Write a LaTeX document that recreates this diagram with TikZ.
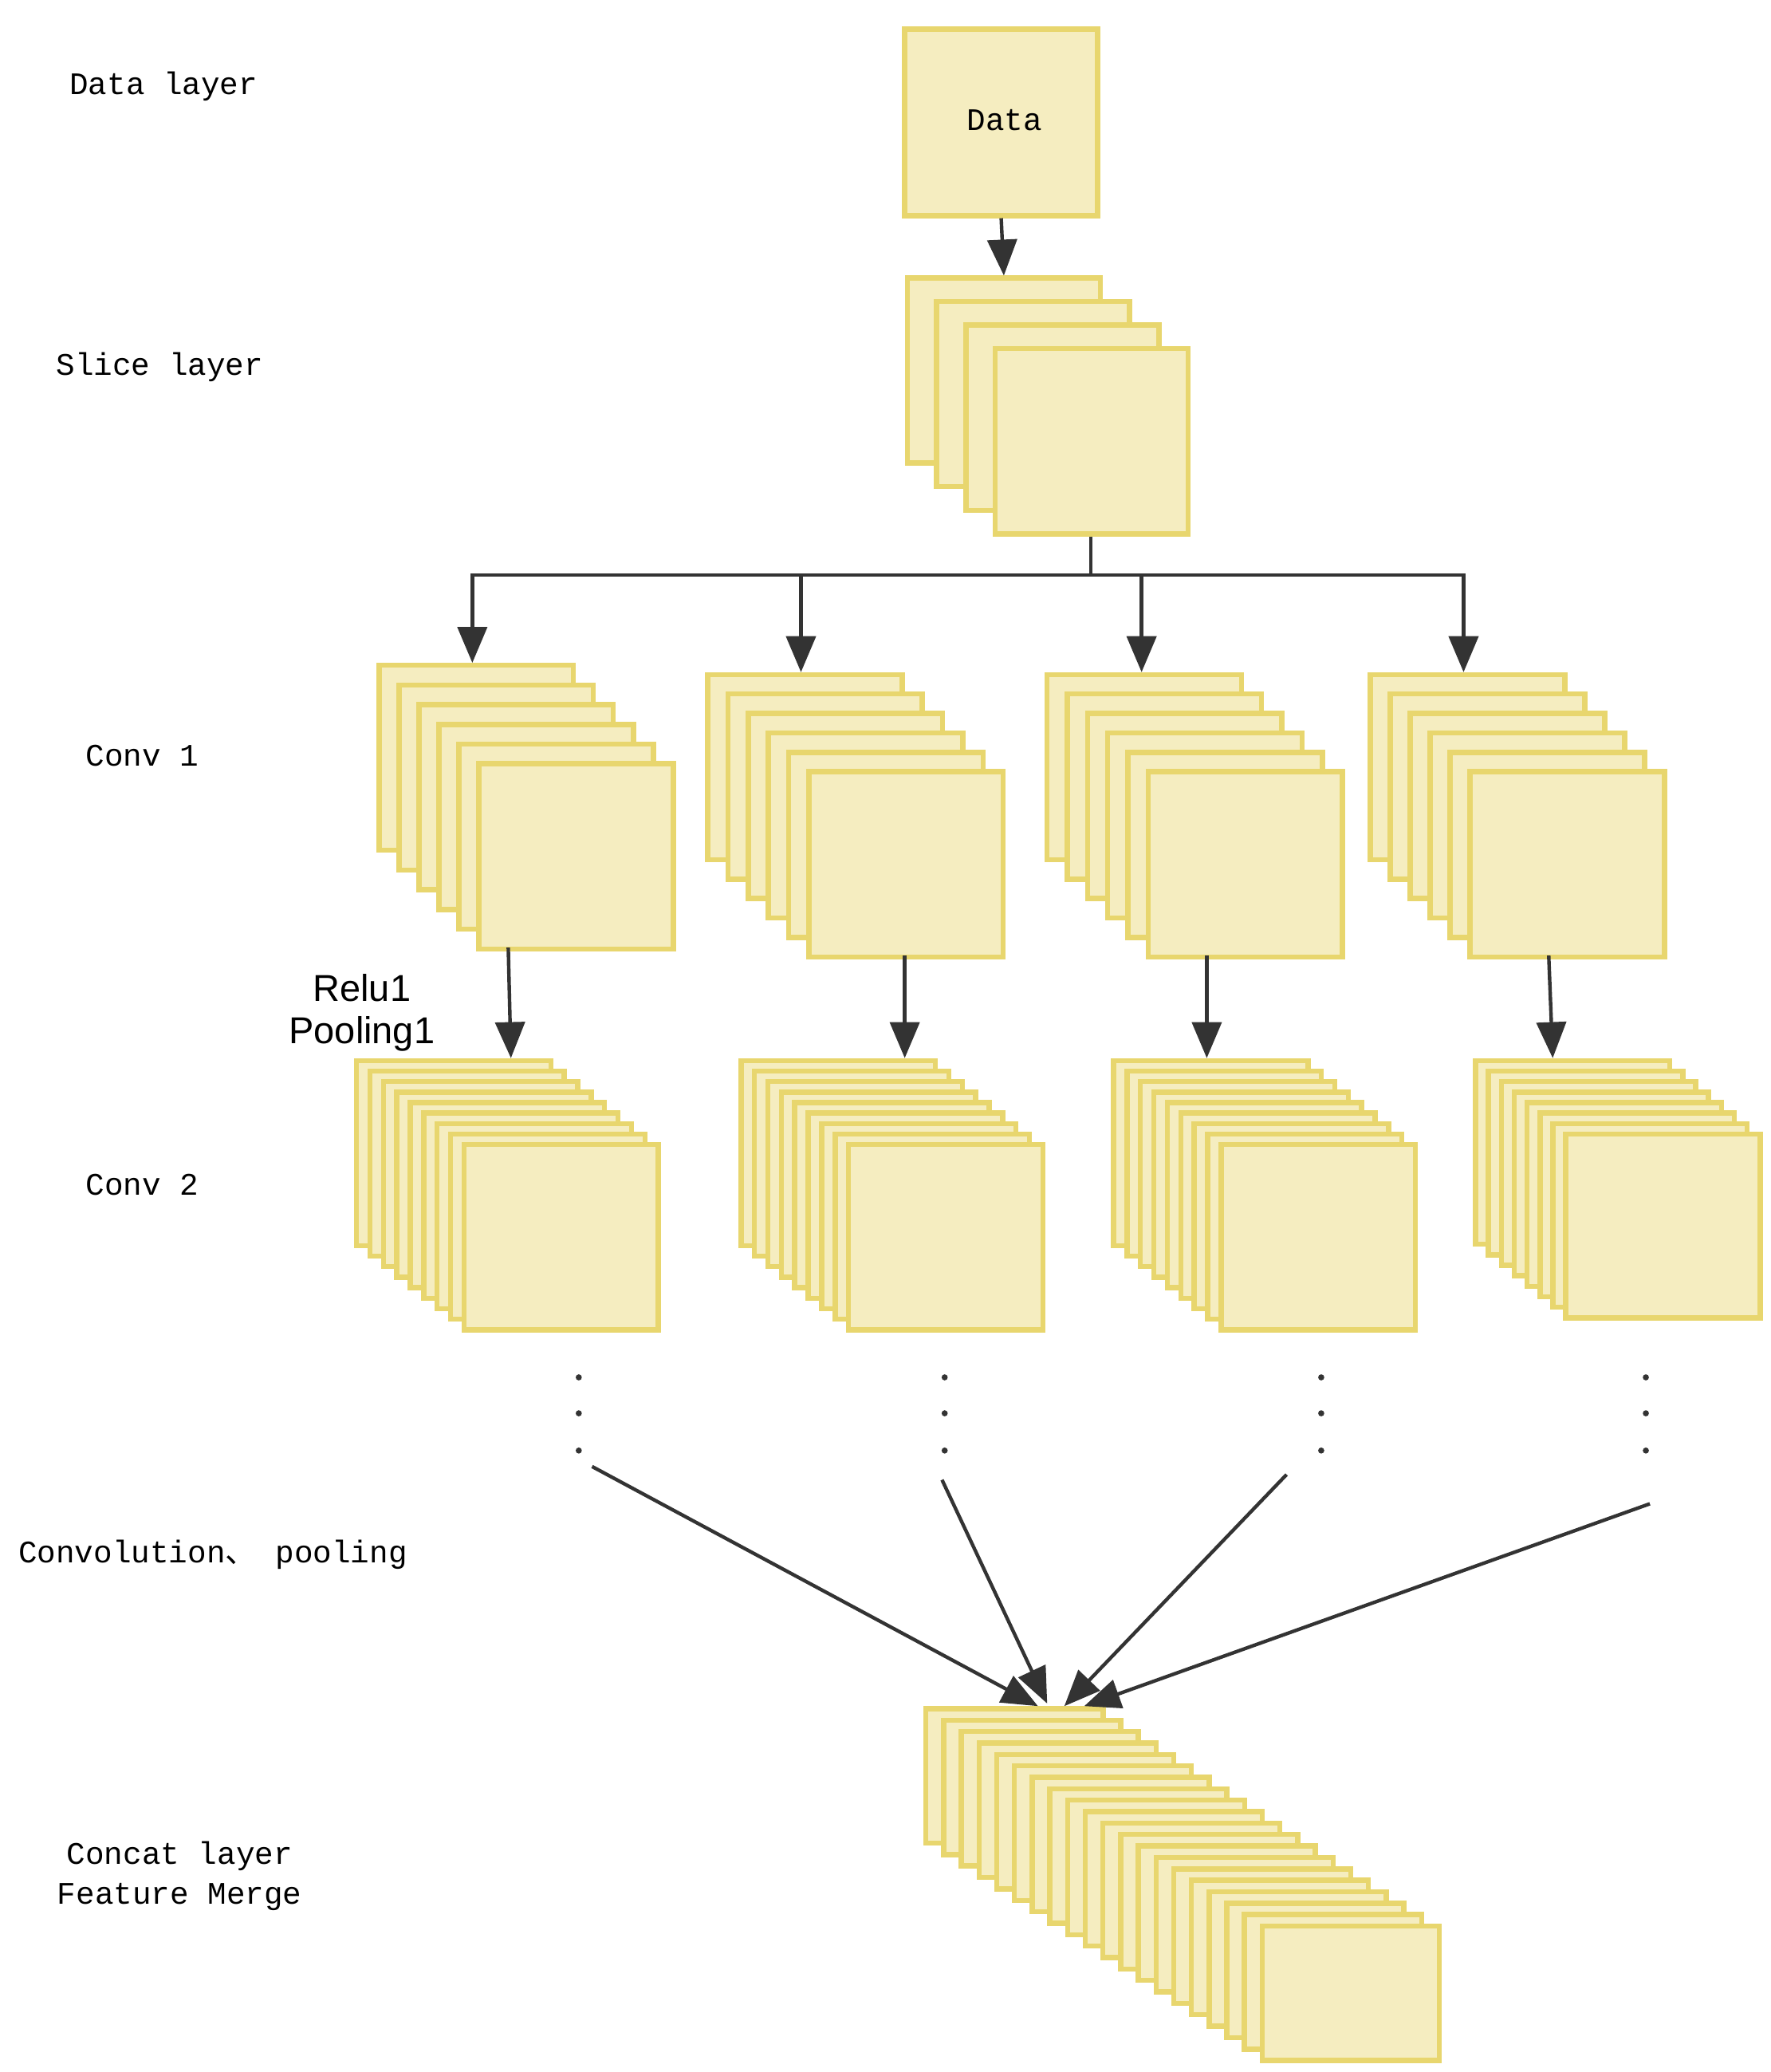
\documentclass[tikz,border=0pt]{standalone}
\usepackage{fontspec}
\setmonofont{Liberation Mono}
\setmainfont{Liberation Sans}
\newfontfamily\cjk{Noto Sans CJK SC}
\usetikzlibrary{arrows,positioning}
\definecolor{mapfill}{HTML}{F5EDC0}
\definecolor{mapedge}{HTML}{E8D66E}
\definecolor{wire}{HTML}{333333}
\tikzset{map/.style={draw=mapedge,fill=mapfill,line width=1.1pt,anchor=north west,inner sep=0pt},
  lbl/.style={font=\ttfamily\fontsize{6.7}{8.5}\selectfont,align=center},
  link/.style={draw=wire,line width=0.75pt,-triangle 45}}
\newcommand{\mapstack}[8]{% name,x0,y0,dx,dy,n,w,h
  \foreach \i in {1,...,#6}{
    \node[map,minimum width=#7cm,minimum height=#8cm] (#1-\i) at ({#2+(\i-1)*#4},{-(#3+(\i-1)*#5)}) {};}}
\begin{document}
\begin{tikzpicture}[x=0.01cm,y=0.01cm]
\useasboundingbox (0,0) rectangle (1331,-1557);
% labels
\node[lbl] (ldata) at (123,-65) {Data layer};
\node[lbl] (lslice) at (120,-276) {Slice layer};
\node[lbl] (lconv1) at (107,-568) {Conv 1};
\node[lbl] (lconv2) at (107,-890) {Conv 2};
\node[lbl] (lconvp) at (160,-1168) {Convolution{\cjk 、} pooling};
\node[lbl] (lconcat) at (135,-1410) {Concat layer\\Feature Merge};
\node[font=\fontsize{8}{9}\selectfont,align=center] (lrelu) at (272,-761) {Relu1\\Pooling1};
% data and slice
\node[map,minimum width=1.45cm,minimum height=1.4cm] (data) at (678,-20) {};
\node[font=\ttfamily\fontsize{6.7}{8}\selectfont] at (755,-90) {Data};
\mapstack{slice}{680}{207}{22}{17.7}{4}{1.45}{1.39}
\draw[link] (data.south) -- (slice-1.north);
% conv 1
\mapstack{ca}{283}{498}{15}{14.8}{6}{1.46}{1.39}
\mapstack{cb}{530}{505}{15.2}{14.6}{6}{1.46}{1.39}
\mapstack{cc}{785}{505}{15.2}{14.6}{6}{1.46}{1.39}
\mapstack{cd}{1028}{505}{15}{14.6}{6}{1.46}{1.39}
\coordinate (split) at (820,-432);
\draw[draw=wire,line width=0.75pt] (slice-4.south -| split) -- (split);
\draw[link] (split) -| (355,-498);
\draw[link] (split) -| (602,-505);
\draw[link] (split) -| (858,-505);
\draw[link] (split) -| (1100,-505);
% conv 2
\mapstack{da}{266}{795}{10.1}{7.9}{9}{1.46}{1.39}
\mapstack{db}{555}{795}{10.1}{7.9}{9}{1.46}{1.39}
\mapstack{dc}{835}{795}{10.1}{7.9}{9}{1.46}{1.39}
\mapstack{dd}{1107}{795}{9.7}{7.9}{8}{1.46}{1.38}
\draw[link] (382,-712) -- (384,-795);
\draw[link] (680,-718) -- (680,-795);
\draw[link] (907,-718) -- (907,-795);
\draw[link] (1164,-718) -- (1167,-795);
% dots
\foreach \x [count=\k] in {435,710,993,1237}{
  \foreach \y in {1035,1062,1090}{\fill[wire] (\x,-\y) circle (2.3);}
  \coordinate (tail\k) at (\x,-1100);}
% concat
\mapstack{cat}{694}{1282}{13.3}{8.6}{20}{1.33}{1.01}
\coordinate (s1) at (445,-1102);
\coordinate (s2) at (708,-1112);
\coordinate (s3) at (967,-1108);
\coordinate (s4) at (1240,-1130);
\draw[link] (s1) -- (780,-1282);
\draw[link] (s2) -- (787,-1280);
\draw[link] (s3) -- (800,-1282);
\draw[link] (s4) -- (815,-1282);
\end{tikzpicture}
\end{document}
